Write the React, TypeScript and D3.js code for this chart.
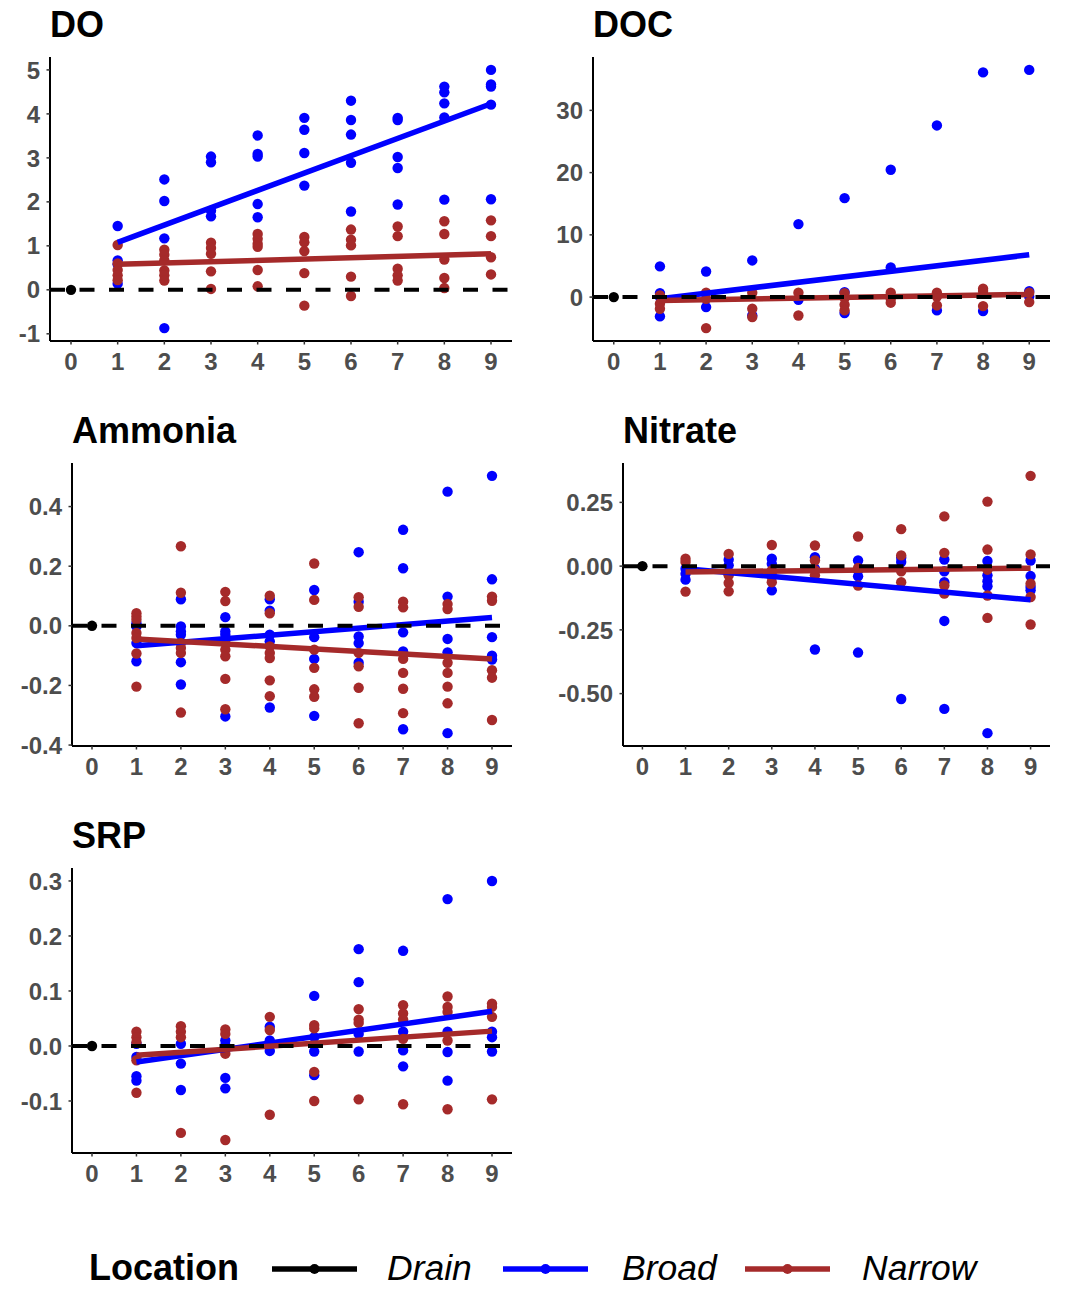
import React from "react";
import * as d3 from "d3";

// Site index along the transect (0 = drain outlet)
const xTicks = [0, 1, 2, 3, 4, 5, 6, 7, 8, 9];
const sites = [1, 2, 3, 4, 5, 6, 7, 8, 9];

// Change relative to drain, one inner array per site (sites 1..9)
const doBroad = [
  [1.45, 0.67, 0.58, 0.14],
  [2.51, 2.02, 1.17, -0.87],
  [3.03, 2.9, 1.8, 1.67],
  [3.51, 3.09, 3.03, 1.95, 1.65],
  [3.91, 3.64, 3.11, 2.37],
  [4.3, 3.86, 3.53, 2.89, 1.78],
  [3.91, 3.86, 3.02, 2.77, 1.94],
  [4.62, 4.49, 4.24, 3.92, 2.05],
  [5.0, 4.67, 4.62, 4.21, 2.06],
];
const doNarrow = [
  [1.02, 0.6, 0.45, 0.33, 0.22],
  [0.91, 0.8, 0.67, 0.44, 0.33, 0.21],
  [1.07, 0.95, 0.82, 0.42, 0.02],
  [1.27, 1.16, 1.05, 0.98, 0.45, 0.08],
  [1.2, 1.08, 0.88, 0.38, -0.36],
  [1.37, 1.14, 1.01, 0.3, -0.14],
  [1.44, 1.22, 0.48, 0.33, 0.21],
  [1.56, 1.27, 0.69, 0.27, 0.04],
  [1.58, 1.22, 0.74, 0.35],
];

const docBroad = [
  [4.93, 0.64, 0.0, -3.1],
  [4.12, -1.6],
  [5.89, -2.95],
  [11.73, -0.43],
  [15.9, 0.8, -2.57],
  [20.46, 4.77, 0.0],
  [27.58, -2.14],
  [36.1, -2.25],
  [36.5, 0.96, 0.1],
];
const docNarrow = [
  [0.27, -1.07, -1.87],
  [0.7, -0.27, -4.98],
  [0.7, -1.87, -3.2],
  [0.7, -2.95],
  [0.64, -0.16, -1.23, -2.14],
  [0.7, -0.27, -0.9],
  [0.7, 0.1, -1.34],
  [1.34, 0.96, -1.45],
  [0.7, -0.8],
];

const ammBroad = [
  [0.009, -0.002, -0.058, -0.119],
  [0.089, -0.002, -0.019, -0.03, -0.122, -0.197],
  [0.029, -0.019, -0.03, -0.047, -0.304],
  [0.089, 0.051, -0.03, -0.052, -0.274],
  [0.12, -0.038, -0.111, -0.302],
  [0.247, 0.081, -0.036, -0.058, -0.124],
  [0.322, 0.193, -0.022, -0.086, -0.347],
  [0.45, 0.098, -0.044, -0.089, -0.36],
  [0.503, 0.156, -0.038, -0.1, -0.113],
];
const ammNarrow = [
  [0.042, 0.031, 0.02, -0.024, -0.041, -0.093, -0.204],
  [0.267, 0.111, -0.058, -0.074, -0.091, -0.291],
  [0.114, 0.083, -0.058, -0.08, -0.102, -0.178, -0.28],
  [0.101, 0.042, -0.069, -0.091, -0.108, -0.183, -0.236],
  [0.209, 0.087, -0.08, -0.141, -0.213, -0.238],
  [0.096, 0.064, -0.091, -0.136, -0.208, -0.327],
  [0.081, 0.062, -0.111, -0.158, -0.211, -0.293],
  [0.073, 0.056, -0.124, -0.158, -0.204, -0.26],
  [0.098, 0.084, -0.149, -0.174, -0.316],
];

const nitBroad = [
  [-0.01, -0.03, -0.053],
  [0.025, 0.003, -0.03],
  [0.029, 0.009, -0.023, -0.095],
  [0.035, -0.01, -0.327],
  [0.022, -0.017, -0.04, -0.339],
  [0.033, 0.016, -0.521],
  [0.026, -0.02, -0.063, -0.215, -0.56],
  [0.02, -0.036, -0.059, -0.079, -0.655],
  [0.022, -0.039, -0.082, -0.095],
];
const nitNarrow = [
  [0.029, 0.016, -0.1],
  [0.048, -0.036, -0.066, -0.099],
  [0.083, -0.017, -0.043, -0.063],
  [0.081, 0.022, -0.017, -0.036],
  [0.116, -0.007, -0.076],
  [0.145, 0.042, -0.02, -0.063],
  [0.195, 0.052, -0.076, -0.108],
  [0.253, 0.065, -0.014, -0.115, -0.203],
  [0.354, 0.046, -0.069, -0.121, -0.229],
];

const srpBroad = [
  [0.004, -0.02, -0.055, -0.063],
  [0.004, -0.032, -0.08],
  [0.01, 0.001, -0.058, -0.077],
  [0.035, 0.01, -0.009],
  [0.091, 0.016, -0.01, -0.053],
  [0.176, 0.116, 0.022, -0.01],
  [0.173, 0.026, -0.008, -0.037],
  [0.267, 0.026, -0.011, -0.063],
  [0.3, 0.026, 0.016, -0.01],
];
const srpNarrow = [
  [0.026, 0.016, 0.007, -0.026, -0.085],
  [0.036, 0.026, 0.016, -0.158],
  [0.03, 0.022, -0.014, -0.171],
  [0.053, 0.029, -0.125],
  [0.038, 0.032, -0.047, -0.1],
  [0.067, 0.048, 0.042, -0.097],
  [0.074, 0.059, 0.048, 0.013, -0.106],
  [0.09, 0.071, 0.062, 0.01, -0.115],
  [0.077, 0.071, 0.053, -0.097],
];

// Linear fit values at site 1 and site 9 for each location
const fitBroad = [
  [1.08, 4.23],
  [-0.27, 6.8],
  [-0.067, 0.028],
  [-0.01, -0.132],
  [-0.029, 0.063],
];
const fitNarrow = [
  [0.58, 0.82],
  [-0.54, 0.43],
  [-0.044, -0.111],
  [-0.023, -0.008],
  [-0.017, 0.027],
];

const panelTitles = ["DO", "DOC", "Ammonia", "Nitrate", "SRP"];
const yTicks = [
  [-1, 0, 1, 2, 3, 4, 5],
  [0, 10, 20, 30],
  [-0.4, -0.2, 0.0, 0.2, 0.4],
  [-0.5, -0.25, 0.0, 0.25],
  [-0.1, 0.0, 0.1, 0.2, 0.3],
];
const yDecimals = [0, 0, 1, 2, 1];
const drainValue = 0;

const locations = ["Drain", "Broad", "Narrow"];
const locationColors = ["#000000", "#0000FF", "#A52A2A"];

const broadSeries = [doBroad, docBroad, ammBroad, nitBroad, srpBroad];
const narrowSeries = [doNarrow, docNarrow, ammNarrow, nitNarrow, srpNarrow];

// Plot-area boxes (left, top, right, bottom) in page pixels
const boxes = [
  [50, 57, 512, 341],
  [593, 57, 1050, 341],
  [72, 463, 512, 746],
  [623, 463, 1050, 746],
  [72, 868, 512, 1153],
];

const FONT = "'Liberation Sans', Arial, Helvetica, sans-serif";
const TICK_COLOR = "#4D4D4D";
const TICK_SIZE = 24;

function Panel({ idx }: { idx: number }) {
  const [left, top, right, bottom] = boxes[idx];
  const broad = broadSeries[idx];
  const narrow = narrowSeries[idx];

  const all = [drainValue, ...broad.flat(), ...narrow.flat()];
  const [lo, hi] = d3.extent(all) as [number, number];
  const pad = (hi - lo) * 0.05;
  const y = d3.scaleLinear().domain([lo - pad, hi + pad]).range([bottom, top]);
  const x = d3.scaleLinear().domain([-0.45, 9.45]).range([left, right]);

  const line = d3
    .line<[number, number]>()
    .x((d) => x(d[0]))
    .y((d) => y(d[1]));

  const pts = (series: number[][]) =>
    series.flatMap((vals, i) => vals.map((v) => [sites[i], v] as [number, number]));

  const base = d3.format(`.${yDecimals[idx]}f`);
  const fmt = (v: number) => base(v).replace("\u2212", "-");

  return (
    <g>
      <text
        x={left}
        y={top - 20}
        fontFamily={FONT}
        fontWeight="bold"
        fontSize={36}
        fill="#000"
      >
        {panelTitles[idx]}
      </text>

      {pts(broad).map(([sx, v], i) => (
        <circle key={`b${i}`} cx={x(sx)} cy={y(v)} r={5.2} fill={locationColors[1]} />
      ))}
      {pts(narrow).map(([sx, v], i) => (
        <circle key={`n${i}`} cx={x(sx)} cy={y(v)} r={5.2} fill={locationColors[2]} />
      ))}

      <path
        d={line([
          [sites[0], fitBroad[idx][0]],
          [sites[sites.length - 1], fitBroad[idx][1]],
        ])!}
        stroke={locationColors[1]}
        strokeWidth={5.5}
        fill="none"
      />
      <path
        d={line([
          [sites[0], fitNarrow[idx][0]],
          [sites[sites.length - 1], fitNarrow[idx][1]],
        ])!}
        stroke={locationColors[2]}
        strokeWidth={5.5}
        fill="none"
      />

      <line
        x1={left}
        x2={right}
        y1={y(0)}
        y2={y(0)}
        stroke="#000"
        strokeWidth={4}
        strokeDasharray="15 14.5"
      />
      <circle cx={x(0)} cy={y(drainValue)} r={5.2} fill={locationColors[0]} />

      {/* axes */}
      <line x1={left} x2={left} y1={top} y2={bottom} stroke="#000" strokeWidth={2} />
      <line x1={left} x2={right} y1={bottom} y2={bottom} stroke="#000" strokeWidth={2} />

      {yTicks[idx].map((t) => (
        <g key={`y${t}`}>
          <line x1={left - 3.5} x2={left} y1={y(t)} y2={y(t)} stroke="#333" strokeWidth={1.5} />
          <text
            x={left - 10}
            y={y(t)}
            dy="0.36em"
            textAnchor="end"
            fontFamily={FONT}
            fontWeight="bold"
            fontSize={TICK_SIZE}
            fill={TICK_COLOR}
          >
            {fmt(t)}
          </text>
        </g>
      ))}
      {xTicks.map((t) => (
        <g key={`x${t}`}>
          <line x1={x(t)} x2={x(t)} y1={bottom} y2={bottom + 3.5} stroke="#333" strokeWidth={1.5} />
          <text
            x={x(t)}
            y={bottom + 29}
            textAnchor="middle"
            fontFamily={FONT}
            fontWeight="bold"
            fontSize={TICK_SIZE}
            fill={TICK_COLOR}
          >
            {t}
          </text>
        </g>
      ))}
    </g>
  );
}

function Legend() {
  const keyStarts = [272, 503, 745];
  const labelStarts = [387, 622, 862];
  const keyW = 85;
  const cy = 1269;
  const baseline = 1280;
  return (
    <g>
      <text x={89} y={baseline} fontFamily={FONT} fontWeight="bold" fontSize={36} fill="#000">
        Location
      </text>
      {locations.map((name, i) => (
        <g key={name}>
          <line
            x1={keyStarts[i]}
            x2={keyStarts[i] + keyW}
            y1={cy}
            y2={cy}
            stroke={locationColors[i]}
            strokeWidth={5.5}
          />
          <circle cx={keyStarts[i] + keyW / 2} cy={cy} r={5} fill={locationColors[i]} />
          <text
            x={labelStarts[i]}
            y={baseline}
            fontFamily={FONT}
            fontStyle="italic"
            fontSize={35.5}
            fill="#000"
          >
            {name}
          </text>
        </g>
      ))}
    </g>
  );
}

export default function App() {
  return (
    <svg
      width={1066}
      height={1289}
      viewBox="0 0 1066 1289"
      style={{ position: "absolute", left: 0, top: 0, background: "#fff" }}
    >
      <rect width={1066} height={1289} fill="#fff" />
      {panelTitles.map((_, i) => (
        <Panel key={i} idx={i} />
      ))}
      <Legend />
    </svg>
  );
}
